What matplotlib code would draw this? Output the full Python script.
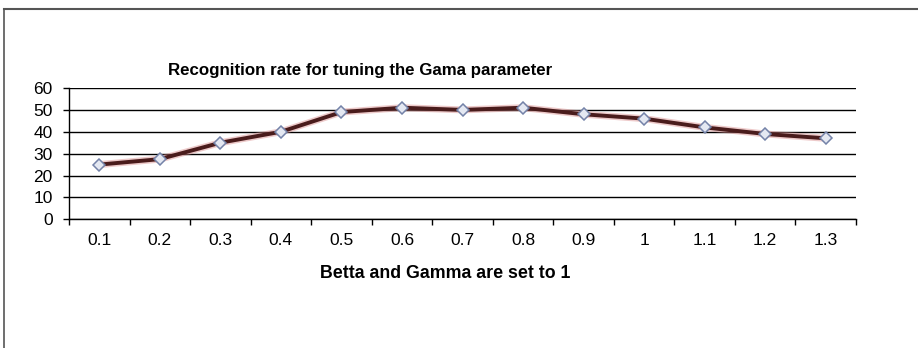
import matplotlib.pyplot as plt
from matplotlib.lines import Line2D

# valores
gama = ['0.1', '0.2', '0.3', '0.4', '0.5', '0.6', '0.7', '0.8', '0.9', '1', '1.1', '1.2', '1.3']
taxa = [25, 27.5, 35, 40, 49, 51, 50, 51, 48, 46, 42, 39, 37]
y_ticks = [0, 10, 20, 30, 40, 50, 60]

plt.rcParams['font.family'] = ['Liberation Sans', 'DejaVu Sans']

fig = plt.figure(figsize=(9.18, 3.48), dpi=100)
ax = fig.add_axes([0.0752, 0.3698, 0.8573, 0.3773])

x = range(len(gama))
# linha com leve brilho avermelhado
ax.plot(x, taxa, color='#d98a8a', lw=5, alpha=0.45, solid_capstyle='round', zorder=3)
ax.plot(x, taxa, color='#4a1c1c', lw=2.8, zorder=4)
ax.plot(x, taxa, ls='none', marker='D', ms=6.5, mfc='#e4e8f2', mec='#7482a8', mew=1.1, zorder=5)

ax.set_xlim(-0.5, len(gama) - 0.5)
ax.set_ylim(0, 60)
ax.set_yticks(y_ticks)
ax.set_xticks(list(x))
ax.set_xticklabels(gama)
ax.set_xticks([i - 0.5 for i in range(len(gama) + 1)], minor=True)
ax.tick_params(axis='x', which='major', length=0, pad=10, labelsize=12.5)
ax.tick_params(axis='x', which='minor', length=4.3, width=1, direction='out')
ax.tick_params(axis='y', length=4.3, width=1, pad=7.5, labelsize=12.5)

ax.grid(axis='y', color='black', lw=1)
ax.set_axisbelow(True)
for s in ['top', 'right']:
    ax.spines[s].set_visible(False)
for s in ['left', 'bottom']:
    ax.spines[s].set_linewidth(1)

fig.text(0.392, 1 - 70 / 348, 'Recognition rate for tuning the Gama parameter',
         ha='center', va='center', fontsize=12.2, fontweight='bold')
fig.text(445 / 918, 1 - 273 / 348, 'Betta and Gamma are set to 1',
         ha='center', va='center', fontsize=12.8, fontweight='bold')

# moldura da planilha (topo e lado esquerdo)
fig.add_artist(Line2D([4 / 918, 1], [1 - 9 / 348, 1 - 9 / 348], color='#555555', lw=1.5,
                      transform=fig.transFigure))
fig.add_artist(Line2D([4 / 918, 4 / 918], [0, 1 - 9 / 348], color='#555555', lw=1.2,
                      transform=fig.transFigure))

fig.savefig('out.png', dpi=100)
